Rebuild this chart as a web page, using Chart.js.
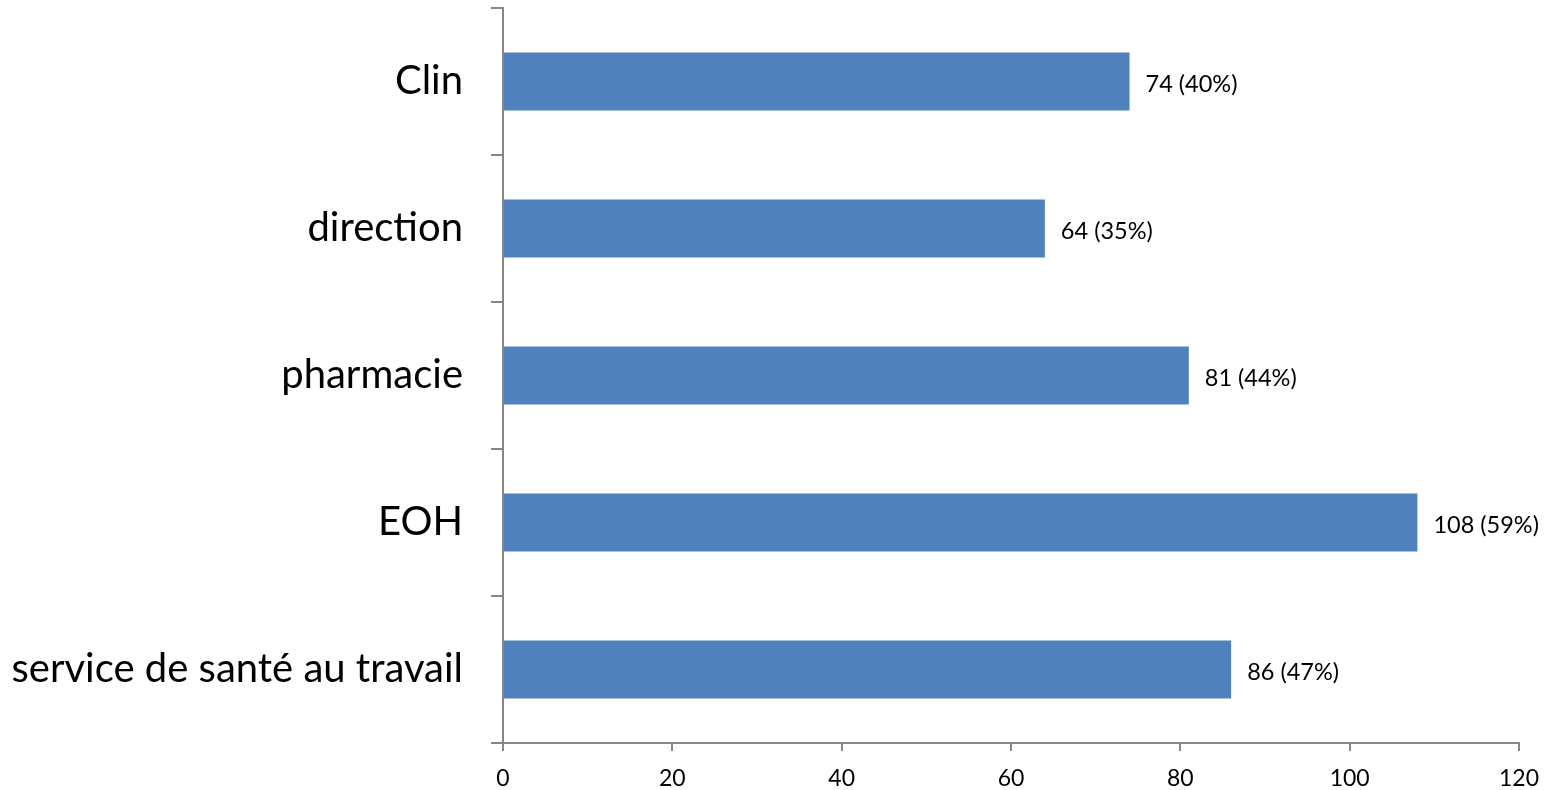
<!DOCTYPE html>
<html>
<head>
<meta charset="utf-8">
<script src="https://cdn.jsdelivr.net/npm/chart.js@4"></script>
<style>
  html, body { margin: 0; padding: 0; background: #fff; }
  #wrap { width: 1550px; height: 790px; }
</style>
</head>
<body>
<div id="wrap"><canvas id="barChart"></canvas></div>
<script>
// data
var categories = ['Clin', 'direction', 'pharmacie', 'EOH', 'service de santé au travail'];
var counts = [74, 64, 81, 108, 86];
var percents = [40, 35, 44, 59, 47];
var xTicks = [0, 20, 40, 60, 80, 100, 120];

var axisGrey = '#868686';

// draws "74 (40%)" after each bar
var valueLabels = {
  id: 'valueLabels',
  afterDatasetsDraw: function(chart) {
    var ctx = chart.ctx;
    var meta = chart.getDatasetMeta(0);
    ctx.save();
    ctx.font = '23.5px Lato';
    ctx.fillStyle = '#000';
    ctx.textAlign = 'left';
    ctx.textBaseline = 'middle';
    meta.data.forEach(function(bar, i) {
      ctx.fillText(counts[i] + ' (' + percents[i] + '%)', bar.x + 16, bar.y + 3);
    });
    ctx.restore();
  }
};

var ctx = document.getElementById('barChart').getContext('2d');
var myChart = new Chart(ctx, {
  type: 'bar',
  plugins: [valueLabels],
  data: {
    labels: categories,
    datasets: [{
      data: counts,
      backgroundColor: '#4F81BD',
      barPercentage: 0.395,
      categoryPercentage: 1
    }]
  },
  options: {
    indexAxis: 'y',
    responsive: true,
    maintainAspectRatio: false,
    animation: false,
    layout: { padding: { top: 8, right: 31, left: 0, bottom: 0 } },
    plugins: {
      legend: { display: false },
      tooltip: { enabled: false }
    },
    scales: {
      x: {
        min: xTicks[0],
        max: xTicks[xTicks.length - 1],
        afterBuildTicks: function(axis) {
          axis.ticks = xTicks.map(function(v) { return { value: v }; });
        },
        afterFit: function(axis) {
          axis.height = 47;
          axis.paddingLeft = 0;
          axis.paddingRight = 0;
        },
        border: { color: axisGrey, width: 2 },
        grid: { drawOnChartArea: false, drawTicks: true, tickLength: 8, color: axisGrey, lineWidth: 2 },
        ticks: { color: '#000', font: { family: 'Lato', size: 23 }, padding: 14, maxRotation: 0 }
      },
      y: {
        afterFit: function(axis) {
          axis.width = 503;
          axis.paddingTop = 0;
          axis.paddingBottom = 0;
        },
        border: { color: axisGrey, width: 2 },
        grid: { drawOnChartArea: false, drawTicks: true, tickLength: 12, color: axisGrey, lineWidth: 2, offset: true },
        ticks: { color: '#000', font: { family: 'Lato', size: 40 }, padding: 28 }
      }
    }
  }
});
</script>
</body>
</html>
